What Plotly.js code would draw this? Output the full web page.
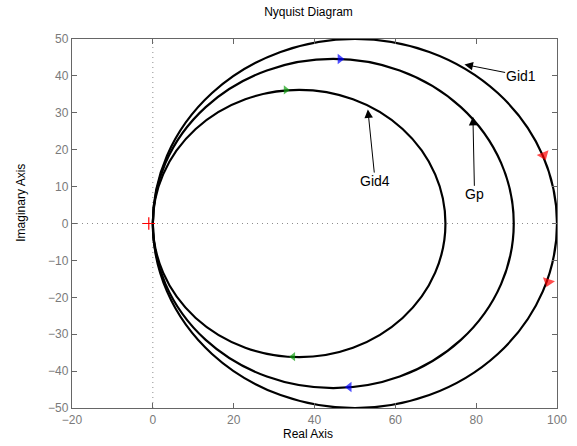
<!DOCTYPE html>
<html>
<head>
<meta charset="utf-8">
<script src="https://cdn.plot.ly/plotly-3.0.1.min.js"></script>
<style>html,body{margin:0;padding:0;background:#fff;}#chart{width:577px;height:446px;}</style>
</head>
<body>
<div id="chart"></div>
<script>
// Nyquist curves (closed loci): real-axis extent and peak imaginary value
const curveNames = ['Gid1', 'Gp', 'Gid4'];
const curveReMin = [0, 0, 0];
const curveReMax = [100, 89.3, 72.4];
const curveImMax = [50, 44.6, 36.2];

// Direction arrows on the curves
const arrowRe = [96.7, 97.8, 46.3, 48.6, 32.9, 34.7];
const arrowIm = [18.5, -15.8, 44.6, -44.3, 36.2, -36.1];
const arrowDir = [68, 108, 0, 180, 0, 180];
const arrowColor = ['#ff0000', '#ff0000', '#0000ff', '#0000ff', '#10a010', '#10a010'];
const arrowSize = [11, 11, 9, 9, 8, 8];

// Critical point
const critRe = [-1];
const critIm = [0];

// Curve labels
const labelText = ['Gid1', 'Gp', 'Gid4'];
const labelRe = [91.0, 79.6, 55.0];
const labelIm = [40.1, 7.9, 11.5];
const pointRe = [77.1, 79.2, 53.2];
const pointIm = [43.1, 28.9, 30.9];

// Axes
const xRange = [-20, 100];
const yRange = [-50, 50];
const xTicks = [-20, 0, 20, 40, 60, 80, 100];
const yTicks = [-50, -40, -30, -20, -10, 0, 10, 20, 30, 40, 50];

const FONT = 'Liberation Sans, Arial, Helvetica, sans-serif';

const shapes = [];
// dotted zero lines
shapes.push({type: 'line', xref: 'x', yref: 'y', x0: 0, x1: 0, y0: yRange[0], y1: yRange[1],
  line: {color: '#8c8c8c', width: 1, dash: '1px,4px'}, layer: 'between'});
shapes.push({type: 'line', xref: 'x', yref: 'y', x0: xRange[0], x1: xRange[1], y0: 0, y1: 0,
  line: {color: '#8c8c8c', width: 1, dash: '1px,4px'}, layer: 'between'});
for (let i = 0; i < curveNames.length; i++) {
  shapes.push({type: 'circle', xref: 'x', yref: 'y',
    x0: curveReMin[i], x1: curveReMax[i], y0: -curveImMax[i], y1: curveImMax[i],
    line: {color: '#000', width: 2.2}, fillcolor: 'rgba(0,0,0,0)', layer: 'between'});
}

const traces = [
  {type: 'scatter', mode: 'markers', x: arrowRe, y: arrowIm, hoverinfo: 'skip',
   marker: {symbol: 'triangle-right', angle: arrowDir, color: arrowColor, size: arrowSize, line: {width: 0}}},
  {type: 'scatter', mode: 'markers', x: critRe, y: critIm, hoverinfo: 'skip',
   marker: {symbol: 'cross-thin', size: 9, line: {color: '#ff0000', width: 1.2}}}
];

const annotations = [];
for (let i = 0; i < labelText.length; i++) {
  annotations.push({xref: 'x', yref: 'y', axref: 'x', ayref: 'y',
    x: pointRe[i], y: pointIm[i], ax: labelRe[i], ay: labelIm[i],
    text: labelText[i], showarrow: true, arrowhead: 2, arrowsize: 1.7, arrowwidth: 1,
    arrowcolor: '#000', font: {family: FONT, size: 14, color: '#000'}, borderpad: 0, standoff: 0});
}
annotations.push({xref: 'paper', yref: 'paper', x: (308 - 72) / (556.7 - 72), y: (408.3 - 434) / (408.3 - 38.5),
  text: 'Real Axis', showarrow: false, xanchor: 'center', yanchor: 'middle',
  font: {family: FONT, size: 12, color: '#000'}});
annotations.push({xref: 'paper', yref: 'paper', x: -0.105, y: (408.3 - 202.5) / (408.3 - 38.5),
  text: 'Imaginary Axis', showarrow: false, textangle: -90, xanchor: 'center', yanchor: 'middle',
  font: {family: FONT, size: 12, color: '#000'}});

const axisCommon = {
  showline: true, linecolor: '#666', linewidth: 1.2, mirror: 'ticks',
  ticks: 'inside', ticklen: 5, tickcolor: '#666', tickwidth: 1,
  showgrid: false, zeroline: false,
  tickfont: {family: FONT, size: 12, color: '#7a7a7a'}
};

const layout = {
  width: 577, height: 446,
  margin: {l: 72, r: 20, t: 38.5, b: 37.7},
  paper_bgcolor: '#fff', plot_bgcolor: '#fff',
  showlegend: false,
  title: {text: 'Nyquist Diagram', font: {family: FONT, size: 12, color: '#000'},
    x: 308.5 / 577, xref: 'container', xanchor: 'center', y: 1 - 12 / 446, yref: 'container', yanchor: 'middle'},
  xaxis: Object.assign({}, axisCommon, {range: xRange, tickvals: xTicks, ticktext: xTicks.map(v => v < 0 ? '\u2212' + Math.abs(v) : String(v))}),
  yaxis: Object.assign({}, axisCommon, {range: yRange, tickvals: yTicks, ticktext: yTicks.map(v => v < 0 ? '\u2212' + Math.abs(v) : String(v))}),
  shapes: shapes,
  annotations: annotations
};

Plotly.newPlot('chart', traces, layout, {staticPlot: true, displayModeBar: false});
</script>
</body>
</html>
